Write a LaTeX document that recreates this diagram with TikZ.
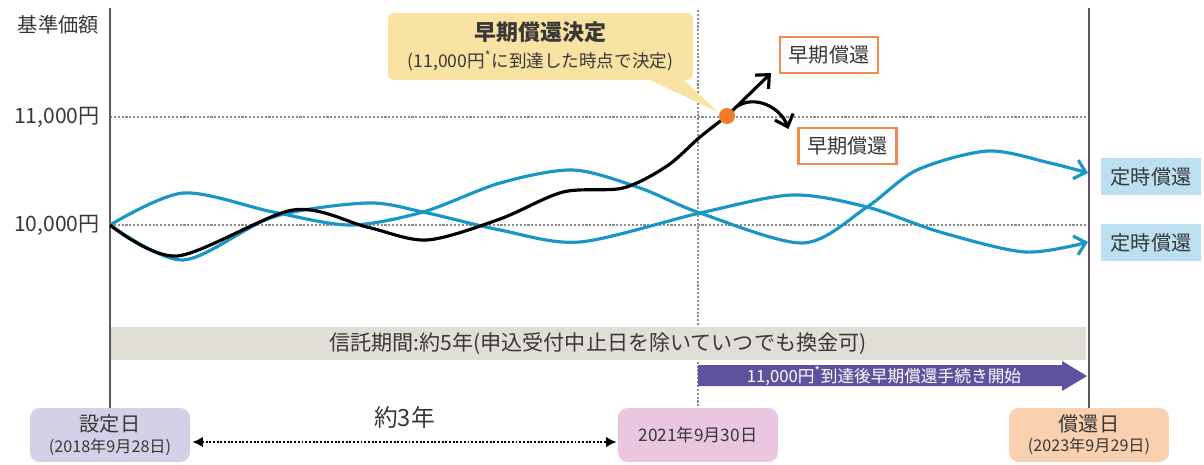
\documentclass[tikz,border=0pt]{standalone}
\usepackage{fontspec}
\setmainfont{Noto Sans CJK JP}
\usetikzlibrary{arrows.meta, positioning, calc}
\definecolor{curveblue}{HTML}{1A96C6}
\definecolor{dotorange}{HTML}{F07C2C}
\definecolor{boxorange}{HTML}{F08A4B}
\definecolor{calloutbg}{HTML}{F9E3A2}
\definecolor{teijibg}{HTML}{BCE0EF}
\definecolor{bandgray}{HTML}{E1DDD7}
\definecolor{procpurple}{HTML}{5E529E}
\definecolor{setbg}{HTML}{D5D0E7}
\definecolor{midbg}{HTML}{EAC6E0}
\definecolor{endbg}{HTML}{F9D0B0}
\definecolor{textgray}{HTML}{383838}
\definecolor{axisgray}{HTML}{5A5A5A}
\definecolor{dotgray}{HTML}{8C8C8C}
\newcommand{\datefont}{\fontsize{9.2}{10.5}\selectfont}

\begin{document}
\begin{tikzpicture}[x=0.02cm, y=-0.02cm,
  lbl/.style={text=textgray, inner sep=0pt, font=\fontsize{12}{14}\selectfont},
  datebox/.style={rectangle, rounded corners=5.5pt, minimum width=3.2cm, minimum height=1.08cm, text=textgray, align=center, inner sep=0pt, font=\fontsize{11.5}{12.5}\selectfont},
  early/.style={rectangle, draw=boxorange, line width=1.2pt, fill=white, text=textgray, minimum width=1.96cm, minimum height=0.72cm, inner sep=0pt, font=\fontsize{11.5}{13}\selectfont},
  teiji/.style={rectangle, fill=teijibg, text=textgray, minimum width=2cm, minimum height=0.74cm, inner sep=0pt, font=\fontsize{11.5}{13}\selectfont},
  band/.style={rectangle, fill=bandgray, text=textgray, minimum width=19.52cm, minimum height=0.66cm, inner sep=0pt, font=\fontsize{12}{14}\selectfont},
  callout/.style={rectangle, rounded corners=3pt, fill=calloutbg, text=textgray, minimum width=6.1cm, minimum height=1.34cm, align=center, inner sep=0pt},
  dotline/.style={dotgray, densely dotted, line width=1.2pt},
  axisline/.style={axisgray, line width=1.3pt},
  bluecurve/.style={curveblue, line width=1.8pt},
  blackcurve/.style={black, line width=1.8pt},
  barb/.style={-{Straight Barb[length=6pt,width=11pt]}},
  span/.style={densely dotted, line width=1.1pt, {Latex[length=6pt,width=6pt]}-{Latex[length=6pt,width=6pt]}}
]
\useasboundingbox (0,0) rectangle (1204,464);

\node[lbl, anchor=east, font=\fontsize{11.5}{13}\selectfont] (ytitle) at (99,25) {基準価額};
\node[lbl, anchor=east] (v11) at (100,117) {11,000円};
\node[lbl, anchor=east] (v10) at (100,225) {10,000円};

\node[datebox, fill=setbg] (setday) at (110,435) {設定日\\[-1pt]{\datefont (2018年9月28日)}};
\node[datebox, fill=midbg] (midday) at (698,435) {{\fontsize{9.8}{11}\selectfont 2021年9月30日}};
\node[datebox, fill=endbg] (endday) at (1089,435) {償還日\\[-1pt]{\datefont (2023年9月29日)}};

\coordinate (axtop) at (110,8);
\coordinate (endtop) at (1089,8);
\coordinate (midtop) at (698,10);
\coordinate (hit) at (727,116);

\draw[dotline] (v11 -| setday.north) -- (v11 -| endday.north);
\draw[dotline] (v10 -| setday.north) -- (v10 -| endday.north);
\draw[dotline] (midtop) -- (midday.north);

\node[band] (period) at (598,343.5) {信託期間:約5年(申込受付中止日を除いていつでも換金可)};
\fill[procpurple] (698,365) -- (1062,365) -- (1062,361) -- (1087,376) -- (1062,391) -- (1062,386) -- (698,386) -- cycle;
\node[text=white, inner sep=0pt, font=\fontsize{9.5}{11}\selectfont] (proc) at (884,376) {11,000円\textsuperscript{*}到達後早期償還手続き開始};

\draw[axisline] (setday.north) -- (axtop);
\draw[axisline] (endday.north) -- (endtop);

\draw[span] ([shift={(2,7)}]setday.east) -- node[midway, above=7pt, inner sep=0pt, text=textgray, font=\fontsize{13.5}{15}\selectfont] (threey) {約3年} ([shift={(-1,7)}]midday.west);

\node[teiji] (teiji1) at (1151,176.5) {定時償還};
\node[teiji] (teiji2) at (1151,242.5) {定時償還};
\node[early] (early1) at (829,55) {早期償還};
\node[early] (early2) at (847.5,146) {早期償還};

\draw[bluecurve, barb] plot[smooth] coordinates {(110,225) (183,260) (273,217) (367,203) (423,212) (500,230) (580,242) (700,213) (792,195) (867,207) (940,232) (1025,252) (1088,242)};
\draw[bluecurve, barb] plot[smooth] coordinates {(110,225) (183,193) (273,212) (350,225) (423,212) (500,183) (573,170) (640,188) (700,213) (803,243) (867,207) (917,170) (988,151) (1050,163) (1088,173)};
\draw[blackcurve] plot[smooth] coordinates {(110,225) (177,256) (293,210) (367,227) (427,240) (500,219) (563,192) (623,188) (667,166) (700,137) (727,116)};

\node[callout] (decide) at (540.5,46.5) {{\fontsize{12.5}{14}\selectfont\bfseries 早期償還決定}\\[3pt]{\fontsize{10}{12}\selectfont (11,000円\textsuperscript{*}に到達した時点で決定)}};
\fill[calloutbg] ($(decide.south east)+(-45,-1)$) -- ($(hit)+(-9,-4)$) -- ($(decide.south east)+(-10,-1)$) -- cycle;

\draw[blackcurve, barb] (hit) -- ([shift={(-8,-1)}]early1.south west);
\draw[blackcurve, barb] ($(hit)!0.22!([shift={(-8,-1)}]early1.south west)$) .. controls +(18,-12) and +(-8,-22) .. ([shift={(-9,2)}]early2.north west);
\node[circle, fill=dotorange, minimum size=0.32cm, inner sep=0pt] (hitdot) at (hit) {};
\end{tikzpicture}
\end{document}
